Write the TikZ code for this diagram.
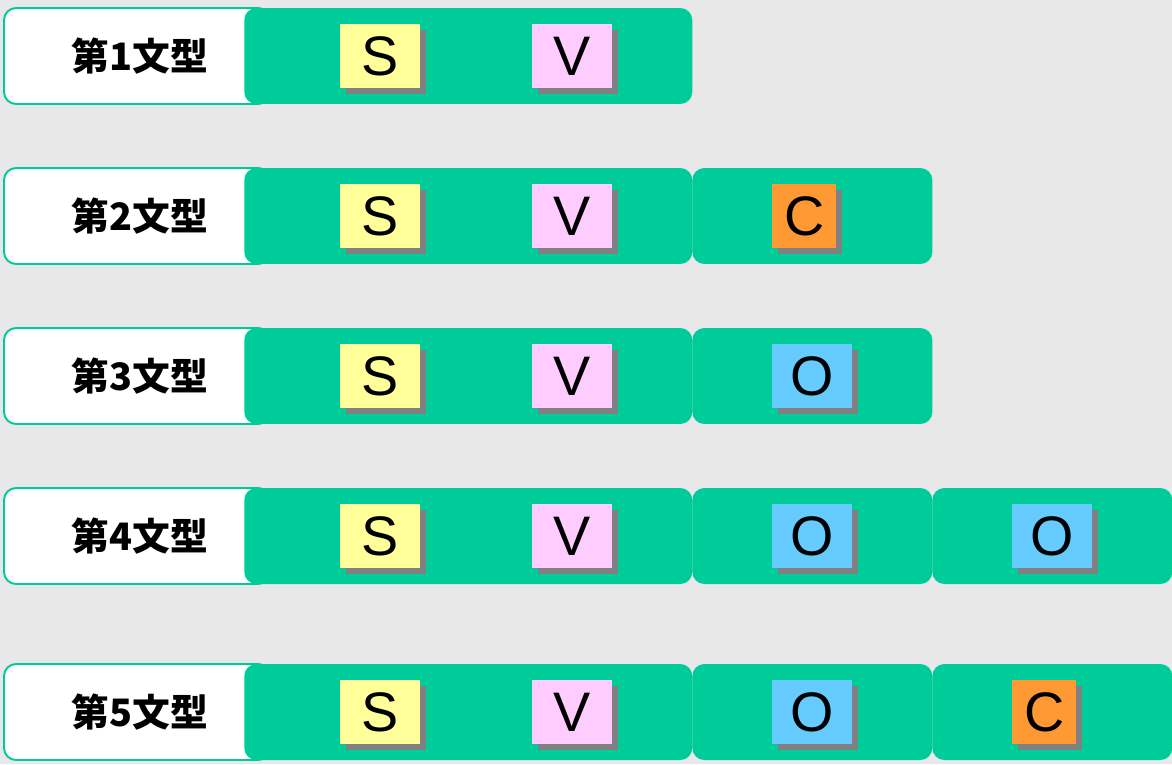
\documentclass[tikz,border=0pt]{standalone}
\usepackage{fontspec}
\setmainfont{Liberation Sans}
\newfontfamily\jpfont{Noto Sans CJK JP}
\usetikzlibrary{shadows}

\definecolor{bggray}{HTML}{E8E8E8}
\definecolor{bargreen}{HTML}{00CC99}
\definecolor{sfill}{HTML}{FFFF99}
\definecolor{vfill}{HTML}{FFCCFF}
\definecolor{ofill}{HTML}{66CCFF}
\definecolor{cfill}{HTML}{FF9933}
\definecolor{shadowgray}{HTML}{808080}

\tikzset{
  labelbox/.style={draw=bargreen, line width=1.1pt, fill=white, rounded corners=0.24cm,
    minimum width=5.32cm, minimum height=1.92cm, inner sep=0pt},
  labeltext/.style={font=\jpfont\bfseries\fontsize{21.5}{24}\selectfont},
  longbar/.style={fill=bargreen, rounded corners=0.24cm, minimum width=8.96cm,
    minimum height=1.92cm, inner sep=0pt, anchor=west},
  shortbar/.style={fill=bargreen, rounded corners=0.24cm, minimum width=4.8cm,
    minimum height=1.92cm, inner sep=0pt, anchor=west},
  partbox/.style={minimum width=1.6cm, minimum height=1.28cm, inner sep=0pt, anchor=west,
    font=\fontsize{31.7}{34}\selectfont,
    drop shadow={shadow xshift=0.12cm, shadow yshift=-0.12cm, fill=shadowgray, opacity=1}},
  narrowbox/.style={partbox, minimum width=1.28cm}
}

\begin{document}
\begin{tikzpicture}[x=0.02cm, y=-0.02cm]
    % Background
    \fill[bggray] (0,0) rectangle (1172,764);
    \useasboundingbox (0,0) rectangle (1172,764);

    % S and V on every row
    \foreach \row/\yc in {1/56, 2/216, 3/376, 4/536, 5/712} {
        \node[labelbox] (lab\row) at (137,\yc) {};
        \node[labeltext] (labtxt\row) at (140,\yc) {第\row 文型};
        \node[longbar] (bar\row) at (244,\yc) {};
        \node[partbox, fill=sfill] (s\row) at (340,\yc) {S};
        \node[partbox, fill=vfill] (v\row) at (532,\yc) {V};
    }

    % Second block
    \node[shortbar] (cbar2) at (692,216) {};
    \node[narrowbox, fill=cfill] (c2) at (772,216) {C};

    \node[shortbar] (obar3) at (692,376) {};
    \node[partbox, fill=ofill] (o3) at (772,376) {O};

    \node[shortbar] (obar4) at (692,536) {};
    \node[partbox, fill=ofill] (o4) at (772,536) {O};
    \node[shortbar] (oobar4) at (932,536) {};
    \node[partbox, fill=ofill] (oo4) at (1012,536) {O};

    \node[shortbar] (obar5) at (692,712) {};
    \node[partbox, fill=ofill] (o5) at (772,712) {O};
    \node[shortbar] (cbar5) at (932,712) {};
    \node[narrowbox, fill=cfill] (c5) at (1012,712) {C};
\end{tikzpicture}
\end{document}
